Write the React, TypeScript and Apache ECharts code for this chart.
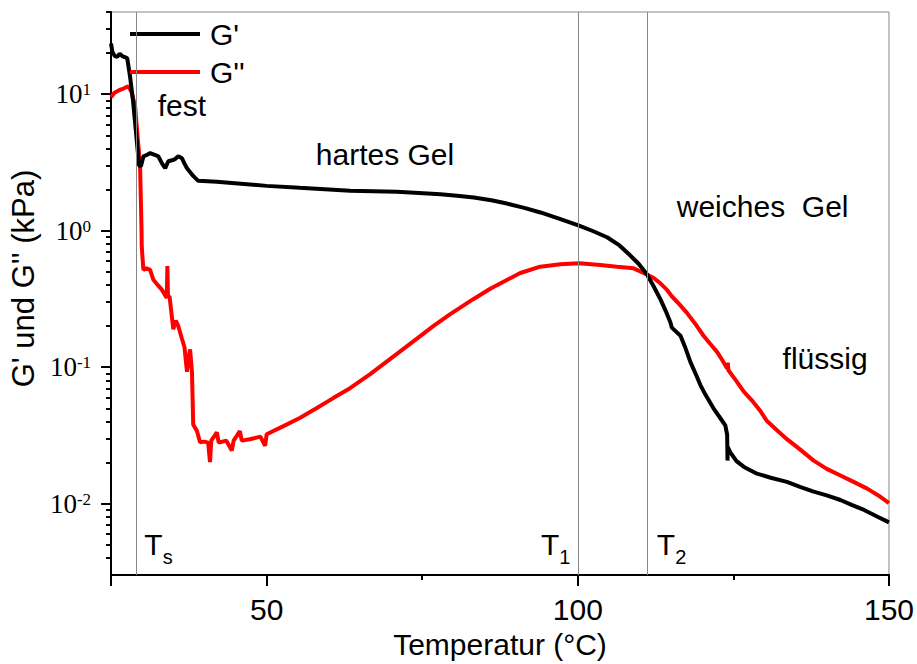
import React, { useEffect, useRef } from 'react';
import * as echarts from 'echarts';

// ---- data (temperature in °C, modulus in kPa) ----
const gPrimeT = [25.0, 25.2, 25.6, 26.0, 26.4, 26.8, 27.2, 27.6, 28.05, 28.5, 29.0, 29.5, 29.8, 30.2, 30.8, 31.3, 32.0, 32.6, 33.2, 33.7, 34.2, 34.8, 35.3, 35.8, 36.4, 36.8, 37.2, 38.2, 39.0, 42.0, 50.0, 55.3, 63.4, 70.9, 74.5, 77.9, 80.6, 83.3, 86.1, 88.6, 91.4, 94.0, 97.1, 100.2, 102.4, 104.7, 106.7, 108.4, 109.8, 111.1, 112.2, 113.3, 114.1, 114.9, 115.1, 116.5, 117.3, 118.1, 119.0, 119.7, 120.5, 121.8, 122.8, 123.7, 124.0, 124.05, 124.1, 124.5, 125.5, 126.7, 128.8, 131.0, 133.6, 135.7, 137.9, 140.0, 142.2, 144.0, 146.0, 148.0, 150.0];
const gPrimeV = [23.5, 20.5, 19.0, 18.8, 19.8, 19.0, 18.7, 18.3, 13.5, 9.2, 5.3, 3.0, 2.97, 3.5, 3.6, 3.7, 3.6, 3.5, 3.1, 2.87, 3.23, 3.28, 3.35, 3.51, 3.39, 3.1, 2.87, 2.52, 2.32, 2.28, 2.13, 2.06, 1.96, 1.93, 1.89, 1.85, 1.80, 1.75, 1.67, 1.58, 1.47, 1.36, 1.22, 1.09, 0.995, 0.895, 0.78, 0.66, 0.57, 0.48, 0.39, 0.313, 0.26, 0.212, 0.195, 0.17, 0.138, 0.109, 0.088, 0.074, 0.063, 0.050, 0.043, 0.0375, 0.032, 0.0207, 0.026, 0.0238, 0.0205, 0.0186, 0.0166, 0.0155, 0.01445, 0.0133, 0.01225, 0.0115, 0.01065, 0.0098, 0.0090, 0.0081, 0.0073];

const gDoubleT = [25.0, 25.5, 26.0, 26.5, 27.0, 27.5, 27.8, 28.3, 28.86, 29.2, 29.66, 29.8, 29.9, 29.93, 30.2, 30.7, 31.27, 31.8, 32.5, 33.15, 33.95, 34.05, 34.15, 34.4, 35.0, 35.4, 35.8, 36.4, 36.8, 37.2, 37.5, 37.7, 38.0, 38.1, 38.2, 38.8, 39.3, 40.0, 40.6, 40.9, 41.1, 42.0, 42.3, 43.5, 44.4, 44.7, 45.7, 46.0, 47.3, 49.0, 49.76, 50.0, 52.7, 55.4, 58.07, 60.7, 63.4, 66.64, 71.46, 74.68, 76.77, 79.5, 83.2, 85.93, 88.67, 90.76, 93.97, 97.19, 100.24, 103.6, 106.3, 108.97, 111.1, 112.2, 113.3, 114.3, 115.1, 116.3, 117.5, 118.8, 120.2, 121.3, 122.4, 123.2, 124.0, 124.1, 124.2, 125.4, 126.7, 128.0, 129.3, 130.4, 132.0, 133.6, 135.7, 137.9, 140.0, 142.2, 144.4, 146.5, 148.3, 150.0];
const gDoubleV = [9.5, 10.2, 10.5, 10.8, 11.0, 11.3, 11.4, 10.3, 8.2, 5.3, 3.0, 1.6, 1.0, 0.76, 0.516, 0.53, 0.516, 0.437, 0.40, 0.37, 0.322, 0.55, 0.33, 0.33, 0.19, 0.22, 0.20, 0.161, 0.14, 0.0925, 0.12, 0.135, 0.092, 0.06, 0.038, 0.0341, 0.0282, 0.0285, 0.028, 0.0202, 0.029, 0.0333, 0.028, 0.029, 0.0245, 0.029, 0.034, 0.029, 0.0297, 0.031, 0.0266, 0.0323, 0.037, 0.0426, 0.0503, 0.0594, 0.0702, 0.089, 0.1306, 0.1688, 0.20, 0.245, 0.315, 0.376, 0.437, 0.49, 0.545, 0.567, 0.578, 0.561, 0.545, 0.53, 0.478, 0.45, 0.41, 0.37, 0.331, 0.29, 0.251, 0.21, 0.17, 0.148, 0.129, 0.113, 0.098, 0.108, 0.095, 0.08, 0.066, 0.057, 0.048, 0.0403, 0.0345, 0.0297, 0.025, 0.0207, 0.018, 0.0161, 0.0144, 0.0129, 0.0115, 0.0101];

const legendNames = ["G'", "G''"];
const seriesColors = ['#000000', '#ff0000'];

// transition temperatures Ts, T1, T2
const transitionT = [29.1, 100, 111.1];
const transitionMain = ['T', 'T', 'T'];
const transitionSub = ['s', '1', '2'];
const transitionLabelT = [30.35, 98.8, 112.7];
const transitionLabelV = [0.005, 0.005, 0.005];
const transitionAlign = ['left', 'right', 'left'];

// region annotations
const regionLabels = ['fest', 'hartes Gel', 'weiches  Gel', 'flüssig'];
const regionT = [32.5, 57.9, 115.9, 132.9];
const regionV = [8.3, 3.63, 1.5, 0.116];

// axes
const xLabelValues = [50, 100, 150];
const xMajorTicks = [25, 50, 100, 150];
const xMinorTicks = [75, 125];
const yRange = [0.003, 40];
const yDecades = [0.01, 0.1, 1, 10];
const yMinorValues = [0.004, 0.005, 0.006, 0.007, 0.008, 0.009, 0.02, 0.03, 0.04, 0.05, 0.06, 0.07, 0.08, 0.09, 0.2, 0.3, 0.4, 0.5, 0.6, 0.7, 0.8, 0.9, 2, 3, 4, 5, 6, 7, 8, 9, 20, 30, 40];

const SANS = 'Liberation Sans, Arial, sans-serif';
const SERIF = 'Liberation Serif, Times New Roman, serif';
const lg = (v: number) => Math.log10(v);

export default function App() {
  const ref = useRef<HTMLDivElement>(null);
  useEffect(() => {
    if (!ref.current) return;
    const chart = echarts.init(ref.current, null, { renderer: 'svg' });

    const gPrime = gPrimeT.map((t, i) => [t, lg(gPrimeV[i])]);
    const gDouble = gDoubleT.map((t, i) => [t, lg(gDoubleV[i])]);

    const annotations: any[] = [];
    regionLabels.forEach((txt, i) => {
      annotations.push({
        value: [regionT[i], lg(regionV[i])],
        label: { formatter: txt, align: 'left' },
      });
    });
    transitionMain.forEach((m, i) => {
      annotations.push({
        value: [transitionLabelT[i], lg(transitionLabelV[i])],
        label: { formatter: `{m|${m}}{s|${transitionSub[i]}}`, align: transitionAlign[i] },
      });
    });

    const yMin = lg(yRange[0]);
    const yMax = lg(yRange[1]);
    const yMajor = yDecades.map(lg);
    const yMinor = yMinorValues.map(lg);

    chart.setOption({
      animation: false,
      backgroundColor: '#ffffff',
      grid: {
        left: 111,
        right: 27,
        top: 12,
        bottom: 81,
        containLabel: false,
        show: true,
        borderColor: '#888888',
        borderWidth: 1,
      },
      legend: {
        data: legendNames.map((n) => ({ name: n, icon: 'rect' })),
        orient: 'vertical',
        left: 125,
        top: 14,
        itemWidth: 70,
        itemHeight: 4,
        itemGap: 8,
        textStyle: { fontSize: 30, fontFamily: SANS, color: '#000', padding: [0, 0, 0, 5] },
      },
      xAxis: [
        {
          type: 'value',
          min: 25,
          max: 150,
          interval: 25,
          position: 'bottom',
          name: 'Temperatur (°C)',
          nameLocation: 'middle',
          nameGap: 45,
          nameTextStyle: { fontSize: 30, fontFamily: SANS, color: '#000' },
          axisLine: { show: true, onZero: false, lineStyle: { color: '#000', width: 2 } },
          axisTick: { show: true, inside: false, length: 11, customValues: xMajorTicks, lineStyle: { color: '#000', width: 2 } },
          axisLabel: { customValues: xLabelValues, fontSize: 30, fontFamily: SANS, color: '#000', margin: 19 },
          splitLine: { show: false },
        },
        {
          type: 'value',
          min: 25,
          max: 150,
          interval: 25,
          position: 'bottom',
          axisLine: { show: false, onZero: false },
          axisTick: { show: true, inside: false, length: 5, customValues: xMinorTicks, lineStyle: { color: '#000', width: 2 } },
          axisLabel: { show: false },
          splitLine: { show: false },
        },
      ],
      yAxis: [
        {
          type: 'value',
          min: yMin,
          max: yMax,
          position: 'left',
          name: "G' und G'' (kPa)",
          nameLocation: 'middle',
          nameGap: 66,
          nameRotate: 90,
          nameTextStyle: { fontSize: 31, fontFamily: SANS, color: '#000', padding: [0, 0, 0, 30] },
          axisLine: { show: true, onZero: false, lineStyle: { color: '#000', width: 2 } },
          axisTick: { show: true, inside: false, length: 10, customValues: yMajor, lineStyle: { color: '#000', width: 2 } },
          splitLine: { show: false },
          axisLabel: {
            customValues: yMajor,
            margin: 20,
            formatter: (v: number) => `{b|10}{e|${Math.round(v)}}`,
            rich: {
              b: { fontSize: 27, fontFamily: SERIF, color: '#000' },
              e: { fontSize: 17, fontFamily: SERIF, color: '#000', padding: [0, 0, 9, 0] },
            },
          },
        },
        {
          type: 'value',
          min: yMin,
          max: yMax,
          position: 'left',
          axisLine: { show: false, onZero: false },
          axisTick: { show: true, inside: false, length: 5, customValues: yMinor, lineStyle: { color: '#000', width: 2 } },
          axisLabel: { show: false },
          splitLine: { show: false },
        },
      ],
      series: [
        {
          name: legendNames[0],
          type: 'line',
          data: gPrime,
          symbol: 'none',
          showSymbol: false,
          color: seriesColors[0],
          lineStyle: { color: seriesColors[0], width: 4 },
          z: 3,
          markLine: {
            silent: true,
            symbol: ['none', 'none'],
            label: { show: false },
            lineStyle: { color: '#888888', width: 1, type: 'solid' },
            emphasis: { disabled: true },
            data: transitionT.map((t) => ({ xAxis: t })),
          },
        },
        {
          name: legendNames[1],
          type: 'line',
          data: gDouble,
          symbol: 'none',
          showSymbol: false,
          color: seriesColors[1],
          lineStyle: { color: seriesColors[1], width: 4 },
          z: 2,
        },
        {
          name: 'annotations',
          type: 'scatter',
          data: annotations,
          symbolSize: 0,
          silent: true,
          itemStyle: { opacity: 1 },
          label: {
            show: true,
            position: [0, 0],
            verticalAlign: 'middle',
            fontSize: 30,
            fontFamily: SANS,
            color: '#000',
            opacity: 1,
            rich: {
              m: { fontSize: 30, fontFamily: SANS, color: '#000' },
              s: { fontSize: 20, fontFamily: SANS, color: '#000', padding: [24, 0, 0, 0] },
            },
          },
        },
      ],
    });
    return () => chart.dispose();
  }, []);
  return <div ref={ref} style={{ position: 'fixed', left: 0, top: 0, width: 917, height: 664 }} />;
}
